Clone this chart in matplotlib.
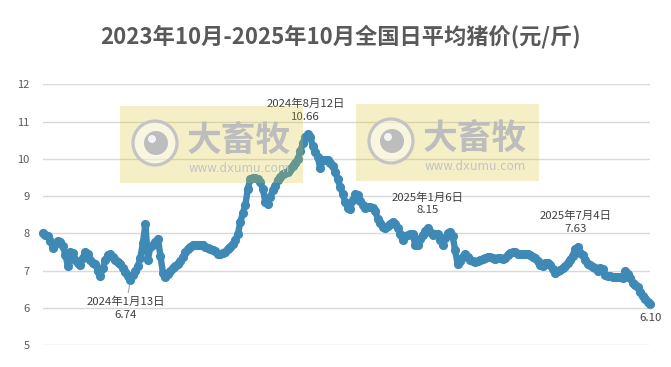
import pandas as pd
import matplotlib
matplotlib.use('Agg')
import matplotlib.pyplot as plt
from matplotlib.patches import Rectangle, Circle
from matplotlib.transforms import IdentityTransform

plt.rcParams['font.family'] = ['Noto Sans CJK SC', 'DejaVu Sans']

# 全国日平均猪价, 每3天取一个点 (元/斤), 2023-10-01 起
prices = [
    8.02, 7.97, 7.92, 7.80, 7.60, 7.72, 7.80, 7.76, 7.65, 7.42,
    7.12, 7.50, 7.48, 7.30, 7.20, 7.16, 7.35, 7.51, 7.44, 7.30,
    7.22, 7.18, 7.00, 6.86, 7.08, 7.30, 7.42, 7.46, 7.36, 7.28,
    7.24, 7.18, 7.08, 6.97, 6.86, 6.74, 6.88, 7.00, 7.12, 7.35,
    7.75, 8.25, 7.30, 7.64, 7.68, 7.78, 7.86, 7.40, 6.95, 6.84,
    6.92, 7.00, 7.06, 7.12, 7.18, 7.26, 7.36, 7.50, 7.58, 7.64,
    7.70, 7.70, 7.68, 7.70, 7.68, 7.64, 7.62, 7.58, 7.56, 7.52,
    7.46, 7.44, 7.48, 7.50, 7.58, 7.64, 7.72, 7.82, 7.98, 8.30,
    8.55, 8.75, 9.20, 9.46, 9.50, 9.50, 9.46, 9.38, 9.20, 8.85,
    8.78, 8.98, 9.16, 9.28, 9.44, 9.52, 9.60, 9.62, 9.66, 9.72,
    9.80, 9.88, 10.00, 10.20, 10.42, 10.60, 10.66, 10.58, 10.34, 10.18,
    10.04, 9.75, 9.98, 9.97, 9.96, 9.90, 9.82, 9.66, 9.45, 9.25,
    9.05, 8.85, 8.68, 8.65, 8.90, 9.05, 9.04, 8.88, 8.76, 8.68,
    8.70, 8.72, 8.68, 8.60, 8.40, 8.28, 8.18, 8.14, 8.20, 8.25,
    8.30, 8.26, 8.14, 7.98, 7.82, 7.92, 7.96, 7.98, 7.98, 7.70,
    7.70, 7.86, 7.96, 8.06, 8.15, 8.04, 7.96, 7.98, 7.99, 7.82,
    7.70, 7.88, 8.00, 8.04, 7.92, 7.55, 7.18, 7.26, 7.38, 7.44,
    7.36, 7.28, 7.25, 7.24, 7.25, 7.28, 7.32, 7.34, 7.38, 7.38,
    7.33, 7.31, 7.33, 7.33, 7.32, 7.34, 7.42, 7.47, 7.49, 7.49,
    7.45, 7.44, 7.46, 7.45, 7.44, 7.42, 7.38, 7.33, 7.26, 7.15,
    7.12, 7.20, 7.22, 7.15, 7.04, 6.94, 6.98, 7.03, 7.06, 7.12,
    7.20, 7.30, 7.40, 7.58, 7.63, 7.48, 7.42, 7.28, 7.18, 7.15,
    7.11, 7.08, 7.00, 7.08, 7.04, 6.88, 6.86, 6.85, 6.84, 6.84,
    6.84, 6.83, 6.80, 6.98, 6.92, 6.80, 6.68, 6.62, 6.56, 6.42,
    6.32, 6.24, 6.16, 6.10,
]
dates = pd.date_range('2023-10-01', periods=len(prices), freq='3D')

# 标注: 数据索引, 日期文字
note_idx = [35, 106, 154, 214, 243]
note_text = ['2024年1月13日', '2024年8月12日', '2025年1月6日', '2025年7月4日', '']

title = '2023年10月-2025年10月全国日平均猪价(元/斤)'
yticks = [5, 6, 7, 8, 9, 10, 11, 12]

W, H = 671, 367
fig = plt.figure(figsize=(W / 100, H / 100), dpi=100)
ax = fig.add_axes([43 / W, 1 - 345.3 / H, (650 - 43) / W, (345.3 - 84.3) / H])

blue = '#3e89b5'
ax.plot(dates, prices, color=blue, lw=4.6, solid_capstyle='round', zorder=3, clip_on=False)
ax.plot(dates, prices, 'o', color=blue, ms=6.6, mec='none', zorder=3, clip_on=False)

ax.set_xlim(dates[0], dates[-1])
ax.set_ylim(5, 12)
ax.set_yticks(yticks)
ax.set_xticks([])
ax.grid(axis='y', color='#d9d9d9', lw=1)
ax.set_axisbelow(True)
for s in ax.spines.values():
    s.set_visible(False)
ax.tick_params(axis='y', length=0, pad=9.5, labelsize=8, labelcolor='#595959')

# 标注位置 (像素偏移)
offsets = [(-5, -28), (-2, 24), (0, 24), (-2, 25), (1, -14)]
for i, txt, (dx, dy) in zip(note_idx, note_text, offsets):
    label = f'{prices[i]:.2f}' if txt == '' else f'{txt}\n{prices[i]:.2f}'
    arrow = None
    if dy < 0:
        arrow = dict(arrowstyle='-', color='#a6a6a6', lw=0.8, shrinkA=1, shrinkB=3)
    ax.annotate(label, (dates[i], prices[i]), xytext=(dx * 0.72, dy * 0.72),
                textcoords='offset points', ha='center', va='center',
                fontsize=8.2, color='#404040', linespacing=1.35,
                arrowprops=arrow, zorder=6, annotation_clip=False)

fig.text(340 / W, 1 - 37 / H, title, ha='center', va='center',
         fontsize=16, fontweight='bold', color='#595959')

# 水印
def watermark(x0, y0):
    tr = IdentityTransform()
    fig.add_artist(Rectangle((x0, H - y0 - 77), 183, 77, transform=tr,
                             facecolor='#dbc323', alpha=0.25, edgecolor='none', zorder=5))
    cx, cy = x0 + 35, H - y0 - 37
    fig.add_artist(Circle((cx, cy), 22, transform=tr, facecolor='#ffffff', alpha=0.45,
                          edgecolor='none', zorder=6))
    fig.add_artist(Circle((cx, cy), 22, transform=tr, facecolor='none',
                          edgecolor='#c4c4c4', lw=2.3, zorder=6))
    fig.add_artist(Circle((cx + 1, cy), 12, transform=tr, facecolor='#bdbdbd',
                          edgecolor='none', zorder=6))
    fig.add_artist(Circle((cx - 3, cy + 4), 4, transform=tr, facecolor='#f4f4f4',
                          edgecolor='none', zorder=6))
    fig.text((x0 + 119) / W, 1 - (y0 + 34) / H, '大畜牧', ha='center', va='center',
             fontsize=25, fontweight='bold', color='#bdbdbd', zorder=6)
    fig.text((x0 + 119) / W, 1 - (y0 + 62) / H, 'www.dxumu.com', ha='center', va='center',
             fontsize=8.5, color='#c4c4c4', family='DejaVu Sans', zorder=6)

watermark(120, 106)
watermark(356, 104)

fig.savefig('out.png', dpi=100)
